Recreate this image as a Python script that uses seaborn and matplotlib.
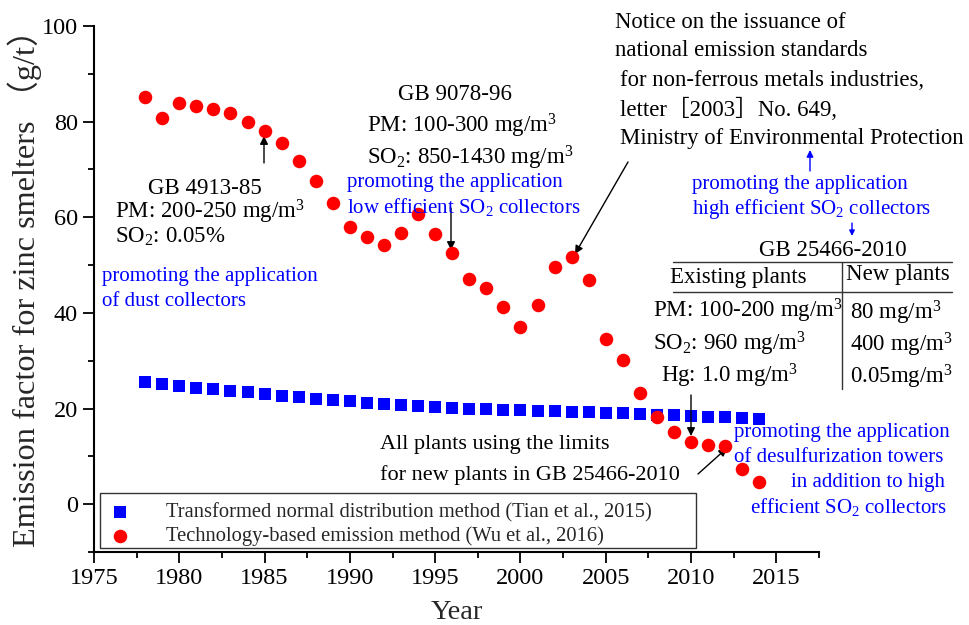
import numpy as np
import pandas as pd
import matplotlib
matplotlib.use("Agg")
import matplotlib.pyplot as plt
from matplotlib.lines import Line2D
from matplotlib.patches import Rectangle
import seaborn as sns

# ---------------- data ----------------
years = list(range(1978, 2015))
tian_values = [25.6, 25.2, 24.8, 24.4, 24.0, 23.6, 23.4, 23.0, 22.7, 22.4,
               22.1, 21.8, 21.5, 21.2, 21.0, 20.8, 20.6, 20.4, 20.1,
               20.0, 19.9, 19.7, 19.6, 19.5, 19.4, 19.2, 19.2, 19.0, 19.0,
               18.8, 18.7, 18.6, 18.5, 18.3, 18.2, 18.1, 17.9]
wu_values = [85.2, 80.8, 84.0, 83.3, 82.6, 81.9, 80.0, 78.1, 75.6, 71.8,
             67.6, 63.0, 58.0, 55.9, 54.1, 56.8, 60.6, 56.6, 52.6, 47.1,
             45.2, 41.3, 37.0, 41.6, 49.6, 51.7, 46.9, 34.6, 30.2, 23.2,
             18.2, 15.1, 13.0, 12.3, 12.2, 7.3, 4.7]
label_tian = "Transformed normal distribution method (Tian et al., 2015)"
label_wu = "Technology-based emission method (Wu et al., 2016)"
x_ticks = [1975, 1980, 1985, 1990, 1995, 2000, 2005, 2010, 2015]
y_ticks = [0, 20, 40, 60, 80, 100]

df_tian = pd.DataFrame({"Year": years, "Value": tian_values})
df_wu = pd.DataFrame({"Year": years, "Value": wu_values})

# ---------------- style ----------------
sns.set_style("ticks")
SERIF = ["Liberation Serif", "Noto Sans CJK SC", "DejaVu Serif"]
plt.rcParams["font.family"] = SERIF
plt.rcParams["mathtext.fontset"] = "custom"
plt.rcParams["mathtext.rm"] = "Liberation Serif"
plt.rcParams["mathtext.it"] = "Liberation Serif:italic"
plt.rcParams["mathtext.bf"] = "Liberation Serif:bold"

W, H = 969, 625
fig = plt.figure(figsize=(W / 100, H / 100), dpi=100)
ax = fig.add_axes([94 / W, 1 - 552 / H, 725 / W, 526 / H])

sns.scatterplot(data=df_tian, x="Year", y="Value", ax=ax, marker="s",
                color="#0000ff", s=80, linewidth=0, label=label_tian, zorder=3)
sns.scatterplot(data=df_wu, x="Year", y="Value", ax=ax, marker="o",
                color="#ff0000", s=95, linewidth=0, label=label_wu, zorder=4)

ax.set_xlim(1975, 2017.5)
ax.set_ylim(-10, 100)
ax.set_xticks(x_ticks)
ax.set_yticks(y_ticks)
ax.set_xticks(np.arange(1977.5, 2017.6, 5), minor=True)
ax.set_yticks(np.arange(-10, 100, 20), minor=True)
ax.tick_params(axis="both", which="major", direction="out", length=8,
               width=1.3, labelsize=17.5, color="black", labelcolor="black")
ax.tick_params(axis="both", which="minor", direction="out", length=4.5,
               width=1.3, color="black")
for s in ["top", "right"]:
    ax.spines[s].set_visible(False)
for s in ["left", "bottom"]:
    ax.spines[s].set_linewidth(1.5)
    ax.spines[s].set_color("black")

ax.set_xlabel("Year", fontsize=20.5, labelpad=8)
ax.set_ylabel("Emission factor for zinc smelters （g/t）", fontsize=23.2)
ax.yaxis.set_label_coords(-0.072, 0.517)

leg = ax.legend(loc="center left",
                bbox_to_anchor=(101.5 / W, 1 - 524.5 / H),
                bbox_transform=fig.transFigure,
                frameon=False, fontsize=14.8, borderaxespad=0,
                handletextpad=1.33, borderpad=0, labelspacing=0.22,
                handlelength=1.8, markerscale=1.0)
fig.add_artist(Rectangle((100 / W, 1 - 548 / H), 596 / W, 55 / H,
                         transform=fig.transFigure, fill=False,
                         edgecolor="#333333", lw=1.0))


# ---------------- annotations (figure pixel positions) ----------------
def F(x, y):
    return (x / W, 1 - y / H)


def txt(x, y, s, size=16.5, color="black", ha="left", va="center"):
    fig.text(x / W, 1 - y / H, s, fontsize=size, color=color, ha=ha, va=va,
             family=SERIF)


def arrow(x0, y0, x1, y1, color="black", ms=12):
    ax.annotate("", xy=F(x1, y1), xytext=F(x0, y0),
                xycoords="figure fraction", textcoords="figure fraction",
                arrowprops=dict(arrowstyle="-|>", color=color, lw=1.0,
                                mutation_scale=ms, shrinkA=0, shrinkB=0),
                annotation_clip=False)


SUP3 = r"$\mathregular{^3}$"
SUB2 = r"$\mathregular{_2}$"
BLUE = "#0000ff"
BK = 16.5
BL = 15

# GB 4913-85
txt(205, 188, "GB 4913-85", BK, ha="center")
txt(115, 212, "PM: 200-250 mg/m" + SUP3, BK)
txt(115, 237, "SO" + SUB2 + ": 0.05%", BK)
txt(102, 277, "promoting the application", BL, BLUE)
txt(102, 301, "of dust collectors", BL, BLUE)
arrow(264, 163, 264, 136)

# GB 9078-96
txt(455, 94, "GB 9078-96", BK, ha="center")
txt(367, 126, "PM: 100-300 mg/m" + SUP3, BK)
txt(367, 158, "SO" + SUB2 + ": 850-1430 mg/m" + SUP3, BK)
txt(347, 182, "promoting the application", BL, BLUE)
txt(347, 207, "low efficient SO" + SUB2 + " collectors", BL, BLUE)
arrow(451, 208, 451, 250)

# Notice
NS = 16.4
txt(615, 23, "Notice on the issuance of", NS)
txt(615, 51, "national emission standards", NS)
txt(620, 80, "for non-ferrous metals industries,", NS)
txt(620, 109, "letter［2003］No. 649,", NS)
txt(620, 139, "Ministry of Environmental Protection", NS)
arrow(628, 162, 575, 254)
arrow(810, 171, 810, 150, BLUE, 10)
txt(692, 184, "promoting the application", BL, BLUE)
txt(692, 209, "high efficient SO" + SUB2 + " collectors", BL, BLUE)
arrow(852, 223, 852, 236, BLUE, 8)

# GB 25466-2010 table
txt(833, 250, "GB 25466-2010", 16.5, ha="center")
txt(670, 278, "Existing plants", 16.5)
txt(846, 275, "New plants", 16.5)
txt(653, 311, "PM: 100-200 mg/m" + SUP3, BK)
txt(653, 344, "SO" + SUB2 + ": 960 mg/m" + SUP3, BK)
txt(661, 376, "Hg: 1.0 mg/m" + SUP3, BK)
txt(850, 313, "80 mg/m" + SUP3, BK)
txt(850, 345, "400 mg/m" + SUP3, BK)
txt(850, 377, "0.05mg/m" + SUP3, BK)
for (xa, ya, xb, yb) in [(673, 262, 952, 262), (673, 292, 952, 292),
                         (842, 262, 842, 389)]:
    fig.add_artist(Line2D([xa / W, xb / W], [1 - ya / H, 1 - yb / H],
                          transform=fig.transFigure, color="#333333", lw=1.0))
arrow(691, 395, 691, 436)

# All plants
txt(380, 445, "All plants using the limits", 16)
txt(380, 475, "for new plants in GB 25466-2010", 16)
arrow(698, 474, 727, 448)

# right blue block
txt(734, 432, "promoting the application", BL, BLUE)
txt(734, 457, "of desulfurization towers", BL, BLUE)
txt(791, 482, "in addition to high", BL, BLUE)
txt(750, 507, "efficient SO" + SUB2 + " collectors", BL, BLUE)

fig.savefig("out.png", dpi=100)
